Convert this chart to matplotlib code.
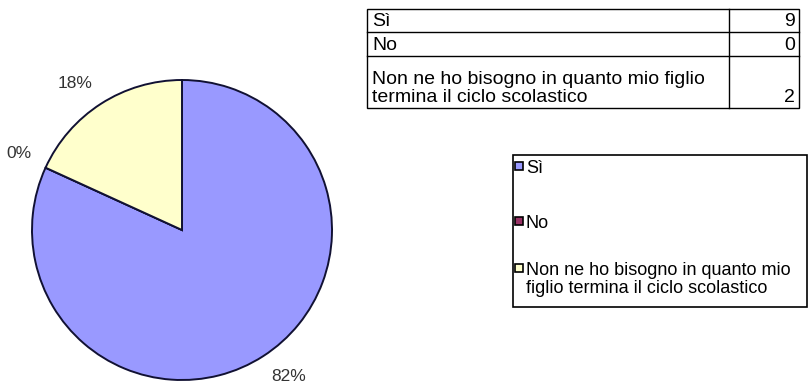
import numpy as np
import matplotlib.pyplot as plt
from matplotlib.patches import Rectangle

plt.rcParams['font.family'] = ['Liberation Sans', 'DejaVu Sans']

# Survey answers
categories = ["Sì", "No", "Non ne ho bisogno in quanto mio figlio termina il ciclo scolastico"]
counts = [9, 0, 2]
colors = ["#9999FF", "#993366", "#FFFFCC"]

table_labels = ["Sì", "No", "Non ne ho bisogno in quanto mio figlio\ntermina il ciclo scolastico"]
legend_labels = ["Sì", "No", "Non ne ho bisogno in quanto mio\nfiglio termina il ciclo scolastico"]

W, H = 809, 391
fig = plt.figure(figsize=(W / 100, H / 100), dpi=100)

# Pie chart, centre (182, 230) px, radius 150 px
cx, cy, r = 182, 230, 150
ax = fig.add_axes([(cx - r) / W, (H - cy - r) / H, 2 * r / W, 2 * r / H])
wedges, texts, autotexts = ax.pie(
    counts, colors=colors, startangle=90, counterclock=False,
    autopct=lambda p: f"{p:.0f}%", pctdistance=1.1,
    wedgeprops=dict(edgecolor="#111133", linewidth=1.4),
    textprops=dict(fontsize=12.5, color="#333333"))
ax.set_xlim(-1, 1)
ax.set_ylim(-1, 1)
ax.set_aspect("equal")

# percentage labels sit just outside the rim, pushed away from the pie
for w, t in zip(wedges, autotexts):
    mid = np.deg2rad((w.theta1 + w.theta2) / 2)
    t.set_ha("right" if np.cos(mid) < 0 else "left")
    t.set_va("bottom" if np.sin(mid) > 0 else "top")
    t.set_clip_on(False)

# Pixel-coordinate overlay for the table and the legend
ov = fig.add_axes([0, 0, 1, 1])
ov.set_xlim(0, W)
ov.set_ylim(H, 0)
ov.axis("off")

# data table
x0, xdiv, x1 = 367, 729, 799
row_edges = [9, 32, 56, 108]
ov.add_patch(Rectangle((x0, row_edges[0]), x1 - x0, row_edges[-1] - row_edges[0],
                       fill=False, edgecolor="black", linewidth=1))
for y in row_edges[1:-1]:
    ov.plot([x0, x1], [y, y], color="black", linewidth=1)
ov.plot([xdiv, xdiv], [row_edges[0], row_edges[-1]], color="black", linewidth=1)

for i, (lab, n) in enumerate(zip(table_labels, counts)):
    yb = row_edges[i + 1] - 2
    ov.text(x0 + 5, yb, lab, fontsize=14, ha="left", va="bottom", linespacing=1.05)
    ov.text(x1 - 4, yb, str(n), fontsize=14, ha="right", va="bottom")

# legend box
lx0, ly0, lx1, ly1 = 513, 155, 807, 307
ov.add_patch(Rectangle((lx0, ly0), lx1 - lx0, ly1 - ly0, fill=False,
                       edgecolor="black", linewidth=1.2))
entry_y = [166, 221, 268]
for w, lab, y in zip(wedges, legend_labels, entry_y):
    ov.add_patch(Rectangle((515, y - 4), 8, 8, facecolor=w.get_facecolor(),
                           edgecolor="black", linewidth=1.2))
    ov.text(526, y - 6, lab, fontsize=13, ha="left", va="top", linespacing=1.1)

fig.savefig("out.png", dpi=100)
